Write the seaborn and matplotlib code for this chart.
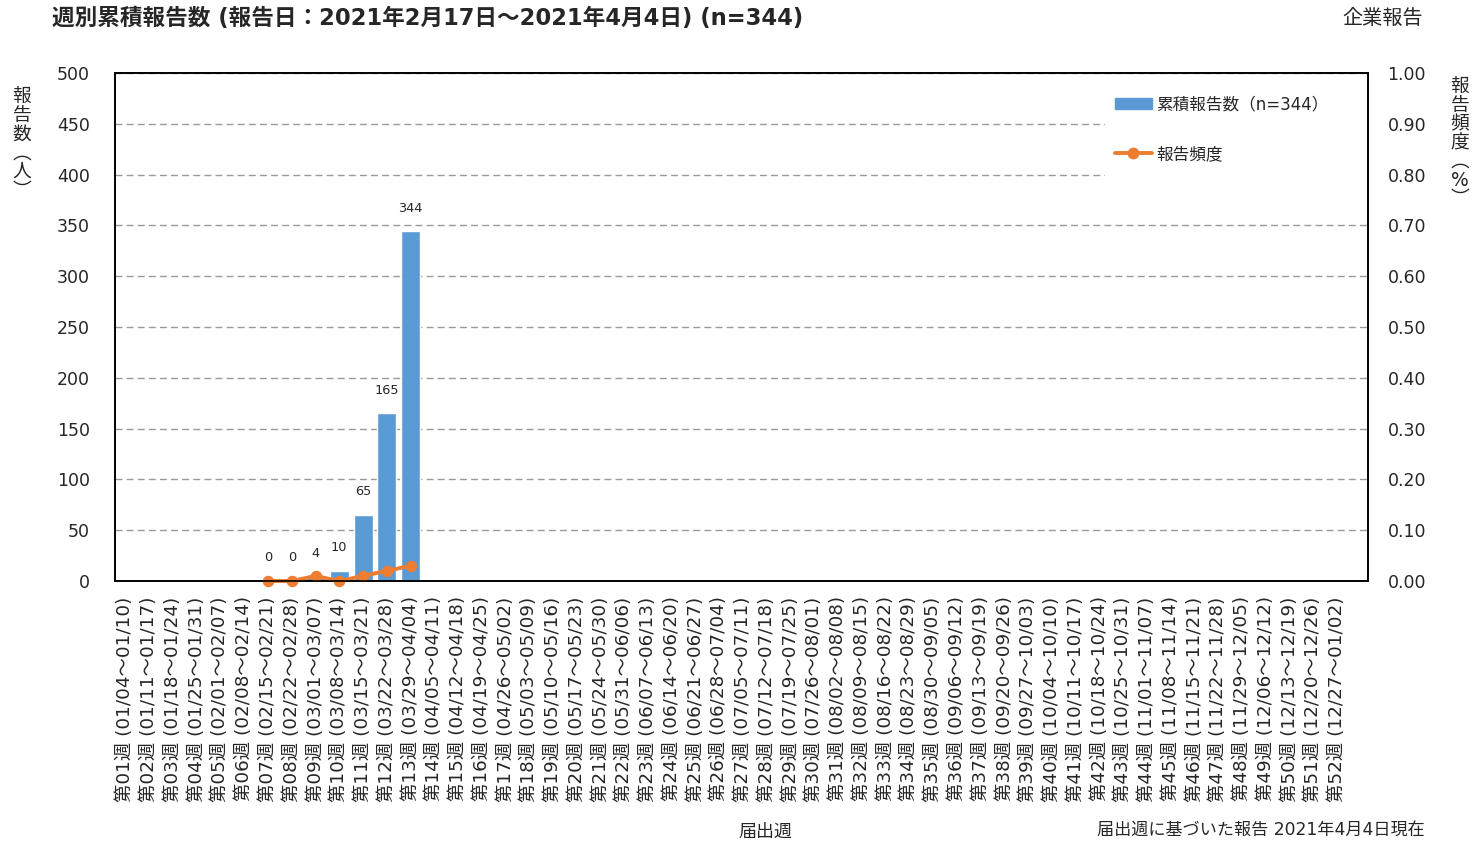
import pandas as pd
import seaborn as sns
import matplotlib.pyplot as plt
from matplotlib.lines import Line2D
from matplotlib.patches import Patch, Rectangle

# 届出週 (2021年)
week_ranges = [
    "01/04～01/10", "01/11～01/17", "01/18～01/24", "01/25～01/31",
    "02/01～02/07", "02/08～02/14", "02/15～02/21", "02/22～02/28",
    "03/01～03/07", "03/08～03/14", "03/15～03/21", "03/22～03/28",
    "03/29～04/04", "04/05～04/11", "04/12～04/18", "04/19～04/25",
    "04/26～05/02", "05/03～05/09", "05/10～05/16", "05/17～05/23",
    "05/24～05/30", "05/31～06/06", "06/07～06/13", "06/14～06/20",
    "06/21～06/27", "06/28～07/04", "07/05～07/11", "07/12～07/18",
    "07/19～07/25", "07/26～08/01", "08/02～08/08", "08/09～08/15",
    "08/16～08/22", "08/23～08/29", "08/30～09/05", "09/06～09/12",
    "09/13～09/19", "09/20～09/26", "09/27～10/03", "10/04～10/10",
    "10/11～10/17", "10/18～10/24", "10/25～10/31", "11/01～11/07",
    "11/08～11/14", "11/15～11/21", "11/22～11/28", "11/29～12/05",
    "12/06～12/12", "12/13～12/19", "12/20～12/26", "12/27～01/02",
]
week_labels = [f"第{i + 1:02d}週 ({r})" for i, r in enumerate(week_ranges)]

# 報告のあった週 (第07週～第13週)
report_weeks = [7, 8, 9, 10, 11, 12, 13]
report_counts = [0, 0, 4, 10, 65, 165, 344]
report_freq = [0.00, 0.00, 0.01, 0.00, 0.01, 0.02, 0.03]

bar_color = "#5B9BD5"
line_color = "#ED7D31"

sns.set_style("white")
plt.rcParams["font.family"] = ["DejaVu Sans", "Noto Sans CJK JP"]

df = pd.DataFrame({
    "week": [week_labels[w - 1] for w in report_weeks],
    "pos": [w - 1 for w in report_weeks],
    "count": report_counts,
    "freq": report_freq,
})

W, H = 1475, 848
fig = plt.figure(figsize=(W / 100, H / 100), dpi=100)
ax = fig.add_axes([115 / W, 1 - 581 / H, (1368 - 115) / W, (581 - 73) / H])
xlim = (-0.44, len(week_labels) + 0.3)

# 棒グラフ (累積報告数)
sns.barplot(data=df, x="week", y="count", order=week_labels, color=bar_color,
            saturation=1, width=0.8, ax=ax)
ax.bar_label(ax.containers[0], fmt="%d", padding=12, fontsize=9.3)

ax.set_xlim(*xlim)
ax.set_ylim(0, 500)
ax.set_yticks(range(0, 501, 50))
ax.set_xlabel("")
ax.set_ylabel("")
ax.yaxis.grid(True, linestyle=(0, (5, 3)), color="#9a9a9a", linewidth=1)
ax.set_axisbelow(True)
ax.tick_params(axis="y", length=0, pad=18, labelsize=12.5)
ax.tick_params(axis="x", length=0, pad=11, labelsize=13.2, labelrotation=90)

# 折れ線 (報告頻度)
ax2 = ax.twinx()
sns.lineplot(data=df, x="pos", y="freq", ax=ax2, color=line_color, linewidth=2.8,
             marker="o", markersize=7.5, markeredgecolor=line_color, clip_on=False)
ax2.set_xlim(*xlim)
ax2.set_ylim(0, 1)
ax2.set_yticks([i / 10 for i in range(11)])
ax2.set_yticklabels([f"{i / 10:.2f}" for i in range(11)])
ax2.set_ylabel("")
ax2.tick_params(axis="y", length=0, pad=14, labelsize=12.5)

for a in (ax, ax2):
    for s in a.spines.values():
        s.set_visible(True)
        s.set_color("black")
        s.set_linewidth(1.2)

# 凡例の白い背景
ax2.add_patch(Rectangle((0.790, 0.785), 0.209, 0.197, transform=ax2.transAxes,
                        facecolor="white", edgecolor="none", zorder=1))
handles = [Patch(color=bar_color),
           Line2D([], [], color=line_color, lw=2.8, marker="o", ms=7.5)]
ax2.legend(handles, ["累積報告数（n=344）", "報告頻度"], loc="upper left",
           bbox_to_anchor=(0.798, 0.956), frameon=False, fontsize=12,
           labelspacing=1.9, handlelength=2.2, handleheight=0.7,
           handletextpad=0.3, borderpad=0, borderaxespad=0)

# テキスト
fig.text(52 / W, 1 - 18 / H, "週別累積報告数 (報告日：2021年2月17日～2021年4月4日) (n=344)",
         fontsize=16.3, weight="bold", ha="left", va="center")
fig.text(1423 / W, 1 - 18 / H, "企業報告", fontsize=14.5, ha="right", va="center")
fig.text(22 / W, 1 - 87 / H, "報\n告\n数\n︵\n人\n︶", fontsize=13.5,
         ha="center", va="top", linespacing=0.98)
fig.text(1460 / W, 1 - 77 / H, "報\n告\n頻\n度\n︵\n%\n︶", fontsize=13.5,
         ha="center", va="top", linespacing=0.98)
fig.text(765 / W, 1 - 832 / H, "届出週", fontsize=13, ha="center", va="center")
fig.text(1425 / W, 1 - 830 / H, "届出週に基づいた報告 2021年4月4日現在",
         fontsize=12.3, ha="right", va="center")

fig.savefig("out.png", dpi=100)
